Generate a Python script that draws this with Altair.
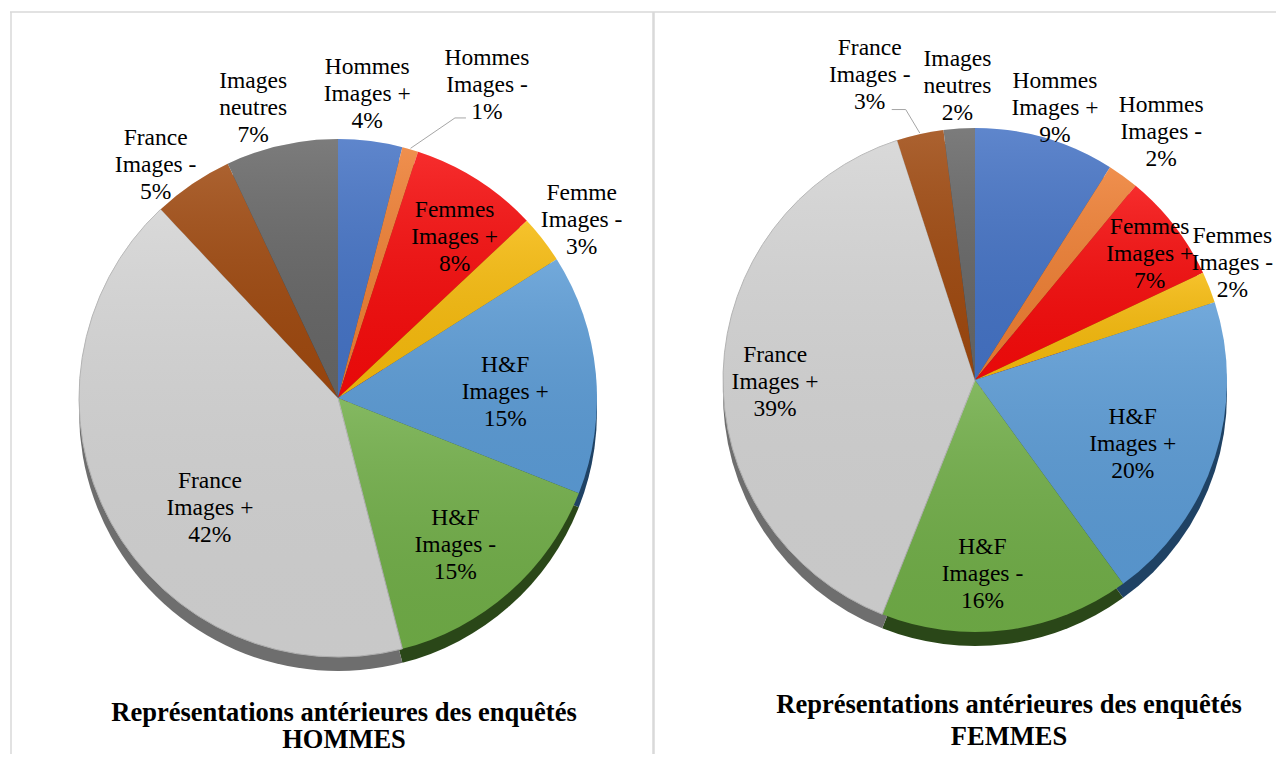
import altair as alt
import pandas as pd

# ---------------- data ----------------
categories = ["Hommes Images +", "Hommes Images -", "Femmes Images +", "Femme Images -",
              "H&F Images +", "H&F Images -", "France Images +", "France Images -",
              "Images neutres"]
hommes_values = [4, 1, 8, 3, 15, 15, 42, 5, 7]
femmes_values = [9, 2, 7, 2, 20, 16, 39, 3, 2]
hommes_labels = ["Hommes\nImages +\n4%", "Hommes\nImages -\n1%", "Femmes\nImages +\n8%",
                 "Femme\nImages -\n3%", "H&F\nImages +\n15%", "H&F\nImages -\n15%",
                 "France\nImages +\n42%", "France\nImages -\n5%", "Images\nneutres\n7%"]
femmes_labels = ["Hommes\nImages +\n9%", "Hommes\nImages -\n2%", "Femmes\nImages +\n7%",
                 "Femmes\nImages -\n2%", "H&F\nImages +\n20%", "H&F\nImages -\n16%",
                 "France\nImages +\n39%", "France\nImages -\n3%", "Images\nneutres\n2%"]
slice_colors = ["#4472C4", "#ED7D31", "#F50A0A", "#F5B90A", "#5B9BD5", "#70AD47",
                "#D3D3D3", "#9E480E", "#666666"]
rim_colors = ["#243D6B", "#8A4519", "#8A0000", "#8A6A00", "#1F4264", "#2A4718",
              "#6E6E6E", "#55270A", "#383838"]
title_hommes = ["Représentations antérieures des enquêtés", "HOMMES"]
title_femmes = ["Représentations antérieures des enquêtés", "FEMMES"]

FONT = "Liberation Serif"
LH = 27
theta_scale = alt.Scale(domain=[0, 100])
color_scale = alt.Scale(domain=categories, range=slice_colors)
rim_scale = alt.Scale(domain=categories, range=rim_colors)
TXT = dict(font=FONT, fontSize=23.5, lineBreak="\n", lineHeight=LH,
           align="center", baseline="middle", color="black")

# label placement (layout): radial distance and small pixel nudges
left_place = {
    "Hommes Images +": (305, -9, -1), "Hommes Images -": (326, 58, 0),
    "Femmes Images +": (199, 10, 7), "Femme Images -": (302, 5, 7),
    "H&F Images +": (167, 1, 10), "H&F Images -": (188, -7, 6),
    "France Images +": (169, 20, 29), "France Images -": (296, -16, 12),
    "Images neutres": (302, -19, 5),
}
right_place = {
    "Hommes Images +": (283, 1, 0), "Hommes Images -": (310, 4, 3),
    "Femmes Images +": (216, 4, 6), "Femme Images -": (294, -16, -9),
    "H&F Images +": (170, -4, 11), "H&F Images -": (195, -17, 1),
    "France Images +": (200, 0, 8), "France Images -": (313, -37, 0),
    "Images neutres": (295, 1, 0),
}


def pie(values, labels, cx, cy, r, place, lead):
    df = pd.DataFrame({"cat": categories, "value": values, "label": labels,
                       "order": list(range(len(categories)))})
    base = (alt.Chart(df)
            .transform_stack(stack="value", groupby=[], as_=["start", "end"],
                             sort=[alt.SortField("order", order="ascending")])
            .transform_calculate(mid="(datum.start + datum.end) / 2",
                                 ang="(datum.start + datum.end) / 100 * PI"))
    th = alt.Theta("start:Q", scale=theta_scale, stack=None)
    th2 = alt.Theta2("end:Q")
    thm = alt.Theta("mid:Q", scale=theta_scale, stack=None)

    rim = base.mark_arc(radius=r).encode(
        theta=th, theta2=th2,
        fill=alt.Fill("cat:N", scale=rim_scale, legend=None),
        x=alt.value(cx), y=alt.value(cy + 14))
    top = base.mark_arc(radius=r, strokeWidth=1).encode(
        theta=th, theta2=th2,
        color=alt.Color("cat:N", scale=color_scale, legend=None),
        stroke=alt.condition(alt.datum.cat == "France Images +",
                             alt.value("#b5b5b5"), alt.value("transparent")),
        x=alt.value(cx), y=alt.value(cy))
    shade = base.mark_arc(
        radius=r,
        fill=alt.Gradient(gradient="linear", x1=0, y1=0, x2=0, y2=1,
                          stops=[alt.GradientStop(offset=0, color="rgba(255,255,255,0.14)"),
                                 alt.GradientStop(offset=1, color="rgba(0,0,0,0.05)")])
    ).encode(theta=th, theta2=th2, x=alt.value(cx), y=alt.value(cy))

    layers = [rim, top, shade]

    # leader line
    lcat, (ex, ey), (fx, fy) = lead
    lR, ldx, ldy = place[lcat]
    lines = base.transform_filter(alt.datum.cat == lcat).transform_calculate(
        x1=f"{cx} + {r + 1} * sin(datum.ang)",
        y1=f"{cy} - {r + 1} * cos(datum.ang)",
        xe=f"{cx} + {lR} * sin(datum.ang) + {ldx + ex}",
        ye=f"{cy} - {lR} * cos(datum.ang) + {ldy + ey}",
        xf=f"{cx} + {lR} * sin(datum.ang) + {ldx + fx}",
        yf=f"{cy} - {lR} * cos(datum.ang) + {ldy + fy}")
    for a, b, c, d in (("x1", "y1", "xe", "ye"), ("xe", "ye", "xf", "yf")):
        layers.append(lines.mark_rule(color="#a6a6a6", strokeWidth=1).encode(
            x=alt.X(f"{a}:Q", scale=None, axis=None),
            y=alt.Y(f"{b}:Q", scale=None, axis=None),
            x2=f"{c}:Q", y2=f"{d}:Q"))

    for cat in categories:
        R, dx, dy = place.get(cat, place.get(cat.replace("Femme ", "Femmes "), (300, 0, 0)))
        layers.append(
            base.transform_filter(alt.datum.cat == cat)
            .mark_text(dx=dx, dy=dy - LH, **TXT)
            .encode(theta=thm, radius=alt.value(R), text="label:N",
                    x=alt.value(cx), y=alt.value(cy)))
    return layers


left = pie(hommes_values, hommes_labels, 330, 390, 259, left_place,
           ("Hommes Images -", (-32, 33), (-21, 33)))
right = pie(femmes_values, femmes_labels, 967, 372, 252, right_place,
            ("France Images -", (36, 35), (22, 35)))

one = pd.DataFrame({"k": [0]})
frame_color = "#d9d9d9"
frame = [
    alt.Chart(one).mark_rule(color=frame_color, strokeWidth=1.5).encode(
        x=alt.value(2), x2=alt.value(1268), y=alt.value(4)),
    alt.Chart(one).mark_rule(color=frame_color, strokeWidth=1.5).encode(
        x=alt.value(3), y=alt.value(4), y2=alt.value(746)),
    alt.Chart(one).mark_rule(color=frame_color, strokeWidth=2.5).encode(
        x=alt.value(645.5), y=alt.value(4), y2=alt.value(746)),
]

TTL = dict(font=FONT, fontSize=26.5, fontWeight="bold", align="center",
           baseline="middle", color="black")
titles = [
    alt.Chart(one).mark_text(lineHeight=27, **TTL).encode(
        text=alt.value(title_hommes), x=alt.value(336), y=alt.value(704.5)),
    alt.Chart(one).mark_text(lineHeight=32, **TTL).encode(
        text=alt.value(title_femmes), x=alt.value(1001), y=alt.value(697)),
]

chart = alt.layer(*frame, *left, *right, *titles).properties(
    width=1268, height=746, padding=0,
    autosize=alt.AutoSizeParams(type="fit", contains="padding"),
    background="white",
).configure_view(strokeWidth=0)

chart.save("out.html", embed_options={"renderer": "svg", "actions": False})
